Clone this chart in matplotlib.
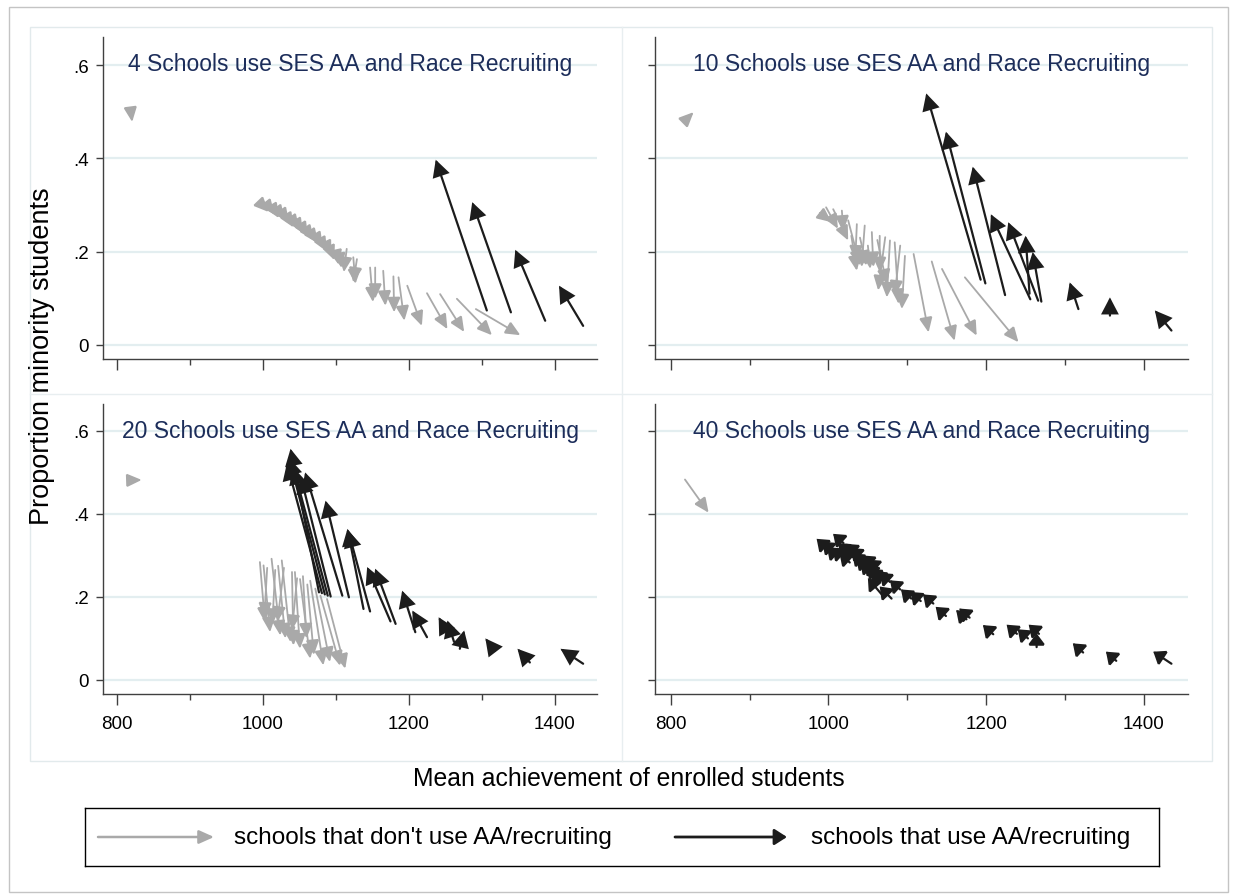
import matplotlib
matplotlib.use('Agg')
import matplotlib.pyplot as plt
from matplotlib.patches import Rectangle

plt.rcParams['font.family'] = ['Liberation Sans', 'DejaVu Sans']

# arrows stored as (x_start, y_start, x_end, y_end); the head sits at the end point
titles = ['4 Schools use SES AA and Race Recruiting',
          '10 Schools use SES AA and Race Recruiting',
          '20 Schools use SES AA and Race Recruiting',
          '40 Schools use SES AA and Race Recruiting']

p1_gray = [(819, 0.502, 821, 0.478),
           (1000, 0.298, 1008, 0.285), (1008, 0.296, 1016, 0.280), (1015, 0.290, 1022, 0.272),
           (1022, 0.285, 1030, 0.268), (1028, 0.280, 1036, 0.262), (1035, 0.270, 1042, 0.252),
           (1042, 0.265, 1050, 0.248), (1048, 0.258, 1055, 0.240), (1055, 0.250, 1062, 0.232),
           (1062, 0.242, 1070, 0.225), (1068, 0.235, 1076, 0.218), (1075, 0.228, 1082, 0.210),
           (1080, 0.222, 1088, 0.200), (1088, 0.212, 1094, 0.192), (1092, 0.205, 1098, 0.182),
           (1100, 0.200, 1104, 0.172), (1105, 0.190, 1108, 0.165),
           (1115, 0.206, 1111, 0.156), (1124, 0.188, 1127, 0.131), (1129, 0.184, 1124, 0.134),
           (1147, 0.166, 1151, 0.092), (1154, 0.166, 1154, 0.099), (1165, 0.159, 1168, 0.084),
           (1179, 0.147, 1180, 0.070), (1186, 0.145, 1194, 0.052), (1198, 0.127, 1218, 0.041),
           (1225, 0.111, 1253, 0.034), (1243, 0.109, 1276, 0.028), (1266, 0.099, 1314, 0.021),
           (1292, 0.077, 1353, 0.021)]
p1_black = [(1307, 0.074, 1237, 0.397), (1340, 0.070, 1287, 0.306),
            (1387, 0.052, 1346, 0.204), (1439, 0.041, 1406, 0.127)]

p2_gray = [(817, 0.479, 829, 0.499),
           (989, 0.283, 1004, 0.263), (997, 0.295, 1012, 0.249), (1006, 0.291, 1025, 0.224),
           (1017, 0.288, 1019, 0.245), (1025, 0.267, 1040, 0.170), (1036, 0.259, 1034, 0.181),
           (1046, 0.256, 1042, 0.167), (1055, 0.242, 1057, 0.167), (1029, 0.234, 1036, 0.159),
           (1050, 0.213, 1053, 0.163), (1040, 0.230, 1048, 0.170), (1062, 0.225, 1074, 0.130),
           (1065, 0.234, 1065, 0.156), (1072, 0.231, 1063, 0.117), (1078, 0.224, 1074, 0.102),
           (1084, 0.220, 1089, 0.088), (1091, 0.213, 1084, 0.106), (1097, 0.191, 1093, 0.077),
           (1108, 0.195, 1127, 0.027), (1131, 0.179, 1160, 0.009), (1144, 0.163, 1188, 0.020),
           (1173, 0.145, 1241, 0.006)]
p2_black = [(1193, 0.140, 1124, 0.539), (1199, 0.132, 1149, 0.457), (1224, 0.107, 1183, 0.382),
            (1256, 0.098, 1206, 0.280), (1266, 0.095, 1228, 0.263), (1255, 0.110, 1250, 0.234),
            (1270, 0.093, 1259, 0.199), (1317, 0.077, 1306, 0.134), (1357, 0.063, 1357, 0.102),
            (1435, 0.031, 1414, 0.074)]

p3_gray = [(816, 0.481, 834, 0.482),
           (996, 0.284, 1003, 0.139), (1001, 0.276, 1010, 0.115), (1006, 0.270, 1002, 0.150),
           (1012, 0.292, 1024, 0.107), (1017, 0.265, 1013, 0.135), (1021, 0.275, 1031, 0.100),
           (1026, 0.288, 1038, 0.091), (1029, 0.270, 1020, 0.140), (1040, 0.260, 1042, 0.083),
           (1044, 0.260, 1051, 0.075), (1047, 0.245, 1040, 0.120), (1051, 0.243, 1065, 0.051),
           (1055, 0.250, 1060, 0.100), (1061, 0.230, 1070, 0.060), (1065, 0.239, 1083, 0.035),
           (1072, 0.220, 1092, 0.043), (1079, 0.203, 1106, 0.034), (1088, 0.195, 1113, 0.027)]
p3_black = [(1077, 0.211, 1038, 0.557), (1081, 0.209, 1033, 0.522), (1085, 0.206, 1036, 0.535),
            (1089, 0.203, 1042, 0.512), (1093, 0.201, 1052, 0.490), (1109, 0.203, 1058, 0.500),
            (1118, 0.199, 1086, 0.432), (1138, 0.171, 1116, 0.364), (1147, 0.165, 1117, 0.360),
            (1175, 0.141, 1143, 0.272), (1182, 0.135, 1154, 0.268), (1209, 0.115, 1191, 0.215),
            (1225, 0.103, 1205, 0.167), (1255, 0.107, 1241, 0.151), (1262, 0.092, 1253, 0.143),
            (1270, 0.075, 1276, 0.119), (1318, 0.070, 1305, 0.100), (1366, 0.042, 1349, 0.075),
            (1439, 0.039, 1408, 0.075)]

p4_gray = [(818, 0.483, 848, 0.403)]
p4_black = [(998, 0.318, 985, 0.340), (1005, 0.311, 992, 0.333), (1019, 0.330, 1006, 0.352),
            (1011, 0.298, 998, 0.320), (1018, 0.296, 1005, 0.318), (1025, 0.308, 1012, 0.330),
            (1031, 0.296, 1018, 0.318), (1035, 0.306, 1022, 0.328), (1027, 0.283, 1014, 0.305),
            (1041, 0.296, 1028, 0.318), (1043, 0.283, 1030, 0.305), (1048, 0.273, 1035, 0.295),
            (1056, 0.278, 1043, 0.300), (1058, 0.260, 1045, 0.282), (1061, 0.253, 1048, 0.275),
            (1065, 0.246, 1052, 0.268), (1063, 0.268, 1050, 0.290), (1053, 0.263, 1040, 0.285),
            (1071, 0.240, 1058, 0.262), (1078, 0.236, 1065, 0.258), (1068, 0.205, 1050, 0.245),
            (1080, 0.196, 1065, 0.225), (1091, 0.218, 1078, 0.240), (1105, 0.196, 1092, 0.218),
            (1117, 0.190, 1104, 0.212), (1133, 0.184, 1120, 0.206), (1149, 0.154, 1136, 0.176),
            (1175, 0.146, 1162, 0.168), (1179, 0.150, 1166, 0.172), (1209, 0.110, 1196, 0.132),
            (1239, 0.111, 1226, 0.133), (1253, 0.100, 1240, 0.122), (1267, 0.111, 1254, 0.133),
            (1264, 0.079, 1264, 0.112), (1323, 0.066, 1310, 0.088), (1365, 0.046, 1352, 0.068),
            (1435, 0.039, 1412, 0.068)]

panels = [(p1_gray, p1_black), (p2_gray, p2_black), (p3_gray, p3_black), (p4_gray, p4_black)]

GRAY = '#a9a9a9'
BLACK = '#1c1c1c'
NAVY = '#1c2d5a'
W, H = 1233, 895

fig = plt.figure(figsize=(W / 100, H / 100), dpi=100)
fig.patch.set_facecolor('white')

# outer border and light inner frame
fig.patches.append(Rectangle((9 / W, 1 - 893 / H), 1219 / W, 885 / H, transform=fig.transFigure,
                             fill=False, edgecolor='#c4c4c4', lw=1))
fig.patches.append(Rectangle((30 / W, 1 - 762 / H), 1182 / W, 734 / H, transform=fig.transFigure,
                             fill=False, edgecolor='#e2eaec', lw=1))
fig.lines.append(plt.Line2D([622 / W, 622 / W], [1 - 762 / H, 1 - 28 / H], transform=fig.transFigure,
                            color='#e8eef0', lw=1))
fig.lines.append(plt.Line2D([30 / W, 1212 / W], [1 - 395 / H, 1 - 395 / H], transform=fig.transFigure,
                            color='#e8eef0', lw=1))


def px_axes(left, top, right, bottom):
    return fig.add_axes([left / W, 1 - bottom / H, (right - left) / W, (bottom - top) / H])


boxes = [(103, 38, 597, 360), (655, 38, 1188, 360), (103, 405, 597, 695), (655, 405, 1188, 695)]
title_y = [64, 64, 432, 432]
xlims = [(781, 1458), (780, 1456), (781, 1458), (780, 1456)]
ylims = [(-0.030, 0.660), (-0.030, 0.660), (-0.034, 0.665), (-0.034, 0.665)]
# panel 4 has very short arrows, so its heads are a bit shorter
black_head_len = [0.65, 0.65, 0.65, 0.45]


def draw_arrows(ax, segs, color, lw, hl, hw):
    for x0, y0, x1, y1 in segs:
        ax.annotate('', xy=(x1, y1), xytext=(x0, y0),
                    arrowprops=dict(arrowstyle='-|>,head_length=%s,head_width=%s' % (hl, hw),
                                    color=color, lw=lw, mutation_scale=15,
                                    shrinkA=0, shrinkB=0, joinstyle='miter'))


for i, ax in enumerate([px_axes(*b) for b in boxes]):
    gray, black = panels[i]
    ax.set_xlim(*xlims[i])
    ax.set_ylim(*ylims[i])
    for s in ['top', 'right']:
        ax.spines[s].set_visible(False)
    for s in ['left', 'bottom']:
        ax.spines[s].set_color('#404040')
        ax.spines[s].set_linewidth(1.0)
    ax.set_yticks([0, 0.2, 0.4, 0.6])
    ax.set_xticks([800, 1000, 1200, 1400])
    ax.set_xticks([900, 1100, 1300], minor=True)
    ax.grid(axis='y', color='#e3eef0', lw=1.6)
    ax.set_axisbelow(True)
    ax.tick_params(axis='y', length=5, width=1, color='#404040', pad=5, labelsize=13.5)
    ax.tick_params(axis='x', which='major', length=8, width=1, color='#404040', pad=7, labelsize=13.5)
    ax.tick_params(axis='x', which='minor', length=4, width=1, color='#404040')
    if i in (0, 2):
        ax.set_yticklabels(['0', '.2', '.4', '.6'])
    else:
        ax.set_yticklabels([])
    if i in (2, 3):
        ax.set_xticklabels(['800', '1000', '1200', '1400'])
    else:
        ax.set_xticklabels([])

    draw_arrows(ax, gray, GRAY, 1.3, 0.6, 0.27)
    draw_arrows(ax, black, BLACK, 1.6, black_head_len[i], 0.34)

    top, bottom = boxes[i][1], boxes[i][3]
    ax.text(0.5, 1 - (title_y[i] - top) / (bottom - top), titles[i], transform=ax.transAxes,
            ha='center', va='center', fontsize=16.5, color=NAVY)

fig.text(42 / W, 1 - 356 / H, 'Proportion minority students', rotation=90,
         ha='center', va='center', fontsize=19.5)
fig.text(629 / W, 1 - 779 / H, 'Mean achievement of enrolled students',
         ha='center', va='center', fontsize=17.8)

# legend
lax = px_axes(85, 809, 1159, 867)
lax.set_xlim(0, 1)
lax.set_ylim(0, 1)
lax.set_xticks([])
lax.set_yticks([])
for s in lax.spines.values():
    s.set_color('black')
    s.set_linewidth(1.0)
lx = lambda p: (p - 85) / (1159 - 85)
lax.annotate('', xy=(lx(214), 0.5), xytext=(lx(98), 0.5),
             arrowprops=dict(arrowstyle='-|>,head_length=0.6,head_width=0.27', color=GRAY,
                             lw=1.8, mutation_scale=15, shrinkA=0, shrinkB=0))
lax.annotate('', xy=(lx(787), 0.5), xytext=(lx(675), 0.5),
             arrowprops=dict(arrowstyle='-|>,head_length=0.5,head_width=0.32', color=BLACK,
                             lw=2.0, mutation_scale=15, shrinkA=0, shrinkB=0))
lax.text(lx(234), 0.5, "schools that don't use AA/recruiting", ha='left', va='center', fontsize=17.5)
lax.text(lx(811), 0.5, 'schools that use AA/recruiting', ha='left', va='center', fontsize=17.5)

fig.savefig('out.png', dpi=100)
